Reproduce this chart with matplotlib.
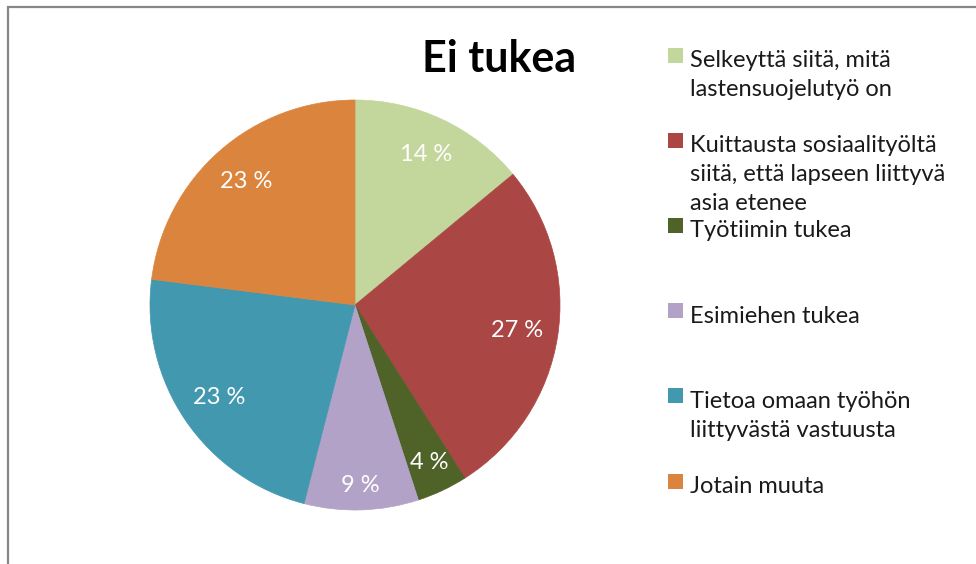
import numpy as np
import matplotlib
matplotlib.use("Agg")
import matplotlib.pyplot as plt
from matplotlib.patches import Rectangle

# ---- data ----
title = "Ei tukea"
categories = [
    "Selkeyttä siitä, mitä\nlastensuojelutyö on",
    "Kuittausta sosiaalityöltä\nsiitä, että lapseen liittyvä\nasia etenee",
    "Työtiimin tukea",
    "Esimiehen tukea",
    "Tietoa omaan työhön\nliittyvästä vastuusta",
    "Jotain muuta",
]
values = [14, 27, 4, 9, 23, 23]
colors = ["#C3D69B", "#AA4644", "#4F6228", "#B3A2C7", "#4298AF", "#DB843D"]

# ---- layout ----
W, H, DPI = 976, 564, 100
plt.rcParams['font.family'] = ['Lato', 'DejaVu Sans']
fig = plt.figure(figsize=(W / DPI, H / DPI), dpi=DPI)

def px(x, y):
    return x / W, 1 - y / H

# outer frame (only top and left visible in reference)
fig.patches.append(Rectangle(px(8, 600), (W + 50) / W, 593 / H, transform=fig.transFigure,
                             fill=False, edgecolor="#878787", linewidth=1.6, zorder=0))

cx, cy, r = 355, 305, 205
ax = fig.add_axes([(cx - r) / W, (H - cy - r) / H, 2 * r / W, 2 * r / H])
wedges, _, autotexts = ax.pie(values, colors=colors, startangle=90, counterclock=False,
                              autopct=lambda p: f"{p:.0f} %", pctdistance=0.81,
                              wedgeprops=dict(linewidth=0),
                              textprops=dict(color="white", fontsize=17))
label_dist = [0.81, 0.80, 0.85, 0.88, 0.80, 0.80]
for w, t, d in zip(wedges, autotexts, label_dist):
    w.set_edgecolor(w.get_facecolor())
    w.set_linewidth(0.5)
    ang = np.deg2rad((w.theta1 + w.theta2) / 2)
    t.set_position((d * np.cos(ang), d * np.sin(ang)))
ax.set_xlim(-1, 1)
ax.set_ylim(-1, 1)
ax.set_aspect("equal")
ax.axis("off")

# title
fig.text(*px(499, 72), title, ha="center", va="baseline", fontsize=31,
         fontweight="bold", color="black")

# legend (manual, Excel-like fixed spacing)
y0, step, lh = 67, 85.2, 29
for i, (lab, col) in enumerate(zip(categories, colors)):
    yb = y0 + i * step
    fig.patches.append(Rectangle(px(668, yb - 4.5), 15 / W, 15 / H, transform=fig.transFigure,
                                 facecolor=col, edgecolor="none"))
    for j, line in enumerate(lab.split("\n")):
        fig.text(*px(690, yb + j * lh), line, ha="left", va="baseline",
                 fontsize=17, color="#1a1a1a")

fig.savefig("out.png", dpi=DPI)
